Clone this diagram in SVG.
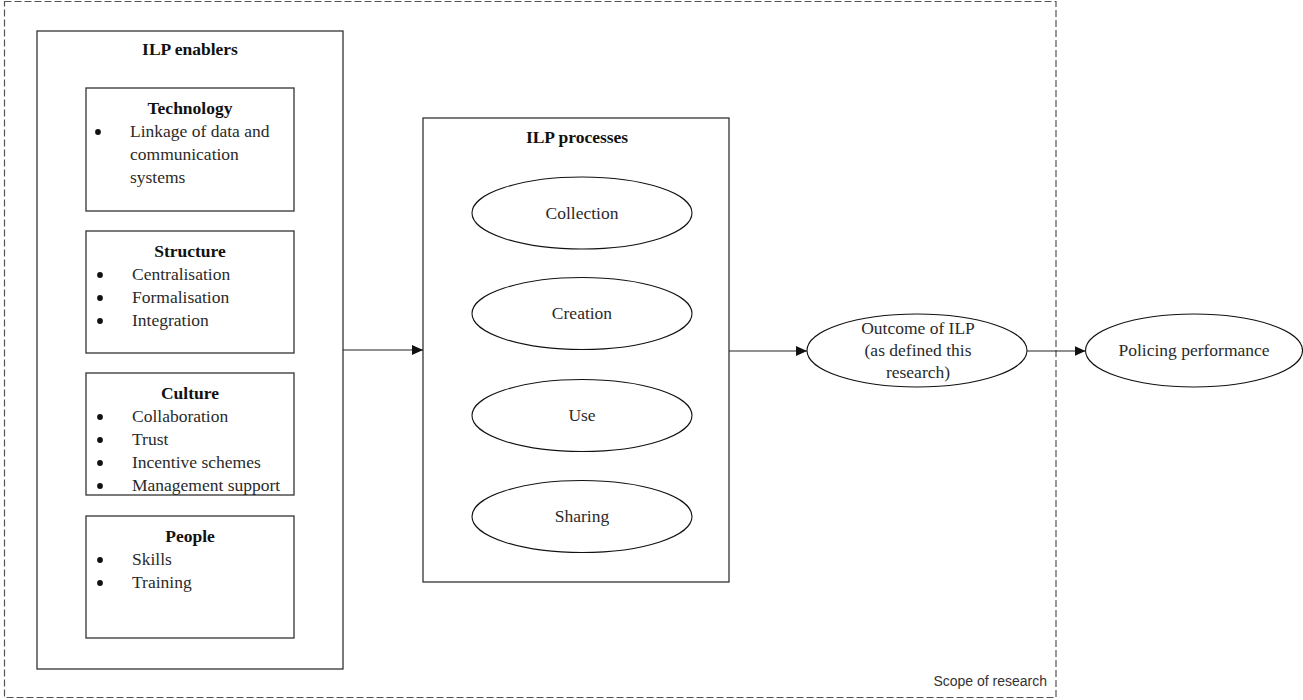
<svg xmlns="http://www.w3.org/2000/svg" width="1303" height="700" viewBox="0 0 1303 700">
  <style>
    .box { fill: #ffffff; stroke: #333333; stroke-width: 1.3; }
    .oval { fill: #ffffff; stroke: #111111; stroke-width: 1.1; }
    .scope { fill: none; stroke: #555555; stroke-width: 1.2; stroke-dasharray: 7 3; }
    .t { font-family: "Liberation Serif", "Times New Roman", serif; font-size: 17.5px; fill: #2a2a2a; }
    .title { font-family: "Liberation Serif", "Times New Roman", serif; font-size: 17.5px; font-weight: bold; fill: #111111; text-anchor: middle; }
    .c { text-anchor: middle; }
    .dot { fill: #111111; }
    .link { fill: none; stroke: #222222; stroke-width: 1.2; }
    .note { font-family: "Liberation Sans", Arial, sans-serif; font-size: 14px; fill: #333333; text-anchor: end; }
  </style>
  <defs>
    <marker id="arrow" viewBox="0 0 11 10" refX="11" refY="5" markerWidth="11" markerHeight="10" markerUnits="userSpaceOnUse" orient="auto">
      <polygon points="0,0 11,5 0,10" fill="#111111"/>
    </marker>
  </defs>

  <rect width="1303" height="700" fill="#ffffff"/>

  <!-- scope boundary -->
  <g id="scope">
    <rect class="scope" x="4.5" y="1.5" width="1051.5" height="696"/>
    <text class="note" x="1047" y="686">Scope of research</text>
  </g>

  <!-- enablers container with its four groups -->
  <g id="enablers">
    <rect class="box" x="37" y="31" width="306" height="638"/>
    <text class="title" x="190" y="55">ILP enablers</text>
  </g>

  <g id="technology">
    <rect class="box" x="86" y="88" width="208" height="123"/>
    <text class="title" x="190" y="114">Technology</text>
    <circle class="dot" cx="98" cy="132" r="2.9"/>
    <text class="t" x="130" y="137">Linkage of data and</text>
    <text class="t" x="130" y="160">communication</text>
    <text class="t" x="130" y="183">systems</text>
  </g>

  <g id="structure">
    <rect class="box" x="86" y="231" width="208" height="122"/>
    <text class="title" x="190" y="257">Structure</text>
    <circle class="dot" cx="100" cy="275" r="2.9"/>
    <text class="t" x="132" y="280">Centralisation</text>
    <circle class="dot" cx="100" cy="298" r="2.9"/>
    <text class="t" x="132" y="303">Formalisation</text>
    <circle class="dot" cx="100" cy="321" r="2.9"/>
    <text class="t" x="132" y="326">Integration</text>
  </g>

  <g id="culture">
    <rect class="box" x="86" y="373" width="208" height="122"/>
    <text class="title" x="190" y="399">Culture</text>
    <circle class="dot" cx="100" cy="417" r="2.9"/>
    <text class="t" x="132" y="422">Collaboration</text>
    <circle class="dot" cx="100" cy="440" r="2.9"/>
    <text class="t" x="132" y="445">Trust</text>
    <circle class="dot" cx="100" cy="463" r="2.9"/>
    <text class="t" x="132" y="468">Incentive schemes</text>
    <circle class="dot" cx="100" cy="486" r="2.9"/>
    <text class="t" x="132" y="491">Management support</text>
  </g>

  <g id="people">
    <rect class="box" x="86" y="516" width="208" height="122"/>
    <text class="title" x="190" y="542">People</text>
    <circle class="dot" cx="100" cy="560" r="2.9"/>
    <text class="t" x="132" y="565">Skills</text>
    <circle class="dot" cx="100" cy="583" r="2.9"/>
    <text class="t" x="132" y="588">Training</text>
  </g>

  <!-- processes container -->
  <g id="processes">
    <rect class="box" x="423" y="118" width="306" height="464"/>
    <text class="title" x="577" y="143">ILP processes</text>
  </g>

  <g id="collection">
    <ellipse class="oval" cx="582" cy="213" rx="110" ry="36"/>
    <text class="t c" x="582" y="219">Collection</text>
  </g>
  <g id="creation">
    <ellipse class="oval" cx="582" cy="313.5" rx="110" ry="36"/>
    <text class="t c" x="582" y="319">Creation</text>
  </g>
  <g id="use">
    <ellipse class="oval" cx="582" cy="415.5" rx="110" ry="36"/>
    <text class="t c" x="582" y="421">Use</text>
  </g>
  <g id="sharing">
    <ellipse class="oval" cx="582" cy="516.5" rx="110" ry="36"/>
    <text class="t c" x="582" y="522">Sharing</text>
  </g>

  <g id="outcome">
    <ellipse class="oval" cx="917" cy="350.5" rx="110" ry="36.5"/>
    <text class="t c" x="918" y="334">Outcome of ILP</text>
    <text class="t c" x="918" y="356">(as defined this</text>
    <text class="t c" x="918" y="378">research)</text>
  </g>

  <g id="performance">
    <ellipse class="oval" cx="1194" cy="350.5" rx="108.5" ry="36.5"/>
    <text class="t c" x="1194" y="356">Policing performance</text>
  </g>

  <!-- connectors -->
  <g id="connectors">
    <line class="link" x1="343" y1="350" x2="423" y2="350" marker-end="url(#arrow)"/>
    <line class="link" x1="729" y1="351" x2="807" y2="351" marker-end="url(#arrow)"/>
    <line class="link" x1="1027" y1="351" x2="1085.5" y2="351" marker-end="url(#arrow)"/>
  </g>
</svg>
